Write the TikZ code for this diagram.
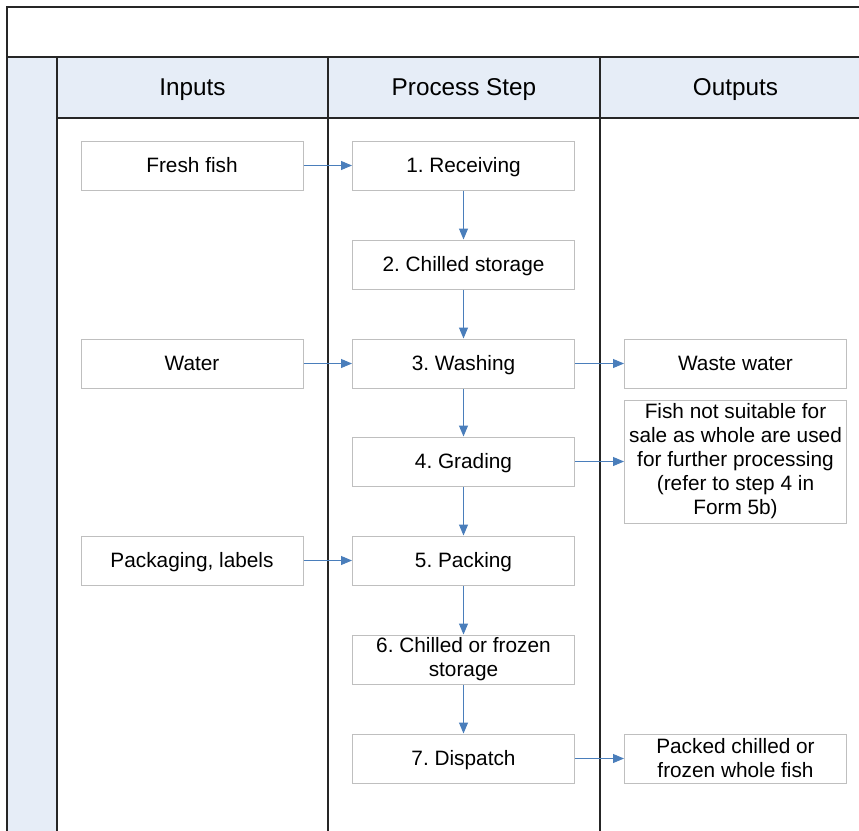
\documentclass[tikz,border=0pt]{standalone}
\usepackage{fontspec}
\setmainfont{Liberation Sans}
\usetikzlibrary{arrows.meta}
\frenchspacing
\definecolor{lanefill}{HTML}{E6EDF7}
\definecolor{laneline}{HTML}{262626}
\definecolor{boxline}{HTML}{BFBFBF}
\definecolor{arrowblue}{HTML}{4A7EBB}
\tikzset{
  stepbox/.style={draw=boxline, line width=1pt, fill=white, minimum width=222pt, minimum height=49pt,
    inner sep=2pt, align=center, font=\fontsize{20.8}{24}\selectfont\frenchspacing},
  oneline/.style={stepbox, text height=17pt, text depth=2.5pt},
  headtext/.style={font=\fontsize{24.3}{27}\selectfont},
  flow/.style={draw=arrowblue, line width=1pt, -{Triangle[length=11pt,width=9pt]}},
  lane/.style={draw=laneline, line width=1.4pt}
}
\begin{document}
\begin{tikzpicture}[x=1pt,y=-1pt]
\useasboundingbox (0,0) rectangle (859,830);
\clip (0,0) rectangle (859,830);
% frame
\fill[lanefill] (7,57) rectangle (57,835);
\fill[lanefill] (57,57) rectangle (880,118);
\draw[lane] (880,7) -- (7,7) -- (7,835);
\draw[lane] (7,57) -- (880,57);
\draw[lane] (57,118) -- (880,118);
\draw[lane] (57,57) -- (57,835);
\draw[lane] (328,57) -- (328,835);
\draw[lane] (600,57) -- (600,835);
\node[headtext] (hin) at (192.5,89.5) {Inputs};
\node[headtext] (hps) at (464,89.5) {Process Step};
\node[headtext] (hout) at (735.5,89.5) {Outputs};
% inputs
\node[oneline] (i1) at (192,165.5) {Fresh fish};
\node[oneline] (i3) at (192,363.5) {Water};
\node[oneline] (i5) at (192,560.5) {Packaging, labels};
% process
\node[oneline] (p1) at (463.5,165.5) {1. Receiving};
\node[oneline] (p2) at (463.5,264.5) {2. Chilled storage};
\node[oneline] (p3) at (463.5,363.5) {3. Washing};
\node[oneline] (p4) at (463.5,461.5) {4. Grading};
\node[oneline] (p5) at (463.5,560.5) {5. Packing};
\node[stepbox] (p6) at (463.5,659.5) {6. Chilled or frozen\\storage};
\node[oneline] (p7) at (463.5,758.5) {7. Dispatch};
% outputs
\node[oneline] (o3) at (735.5,363.5) {Waste water};
\node[stepbox, minimum height=123pt] (o4) at (735.5,461.5) {Fish not suitable for\\sale as whole are used\\for further processing\\(refer to step 4 in\\Form 5b)};
\node[stepbox] (o7) at (735.5,758.5) {Packed chilled or\\frozen whole fish};
% connectors
\draw[flow] (i1) -- (p1);
\draw[flow] (i3) -- (p3);
\draw[flow] (i5) -- (p5);
\draw[flow] (p1) -- (p2);
\draw[flow] (p2) -- (p3);
\draw[flow] (p3) -- (p4);
\draw[flow] (p4) -- (p5);
\draw[flow] (p5) -- (p6);
\draw[flow] (p6) -- (p7);
\draw[flow] (p3) -- (o3);
\draw[flow] (p4) -- (o4);
\draw[flow] (p7) -- (o7);
\end{tikzpicture}
\end{document}
